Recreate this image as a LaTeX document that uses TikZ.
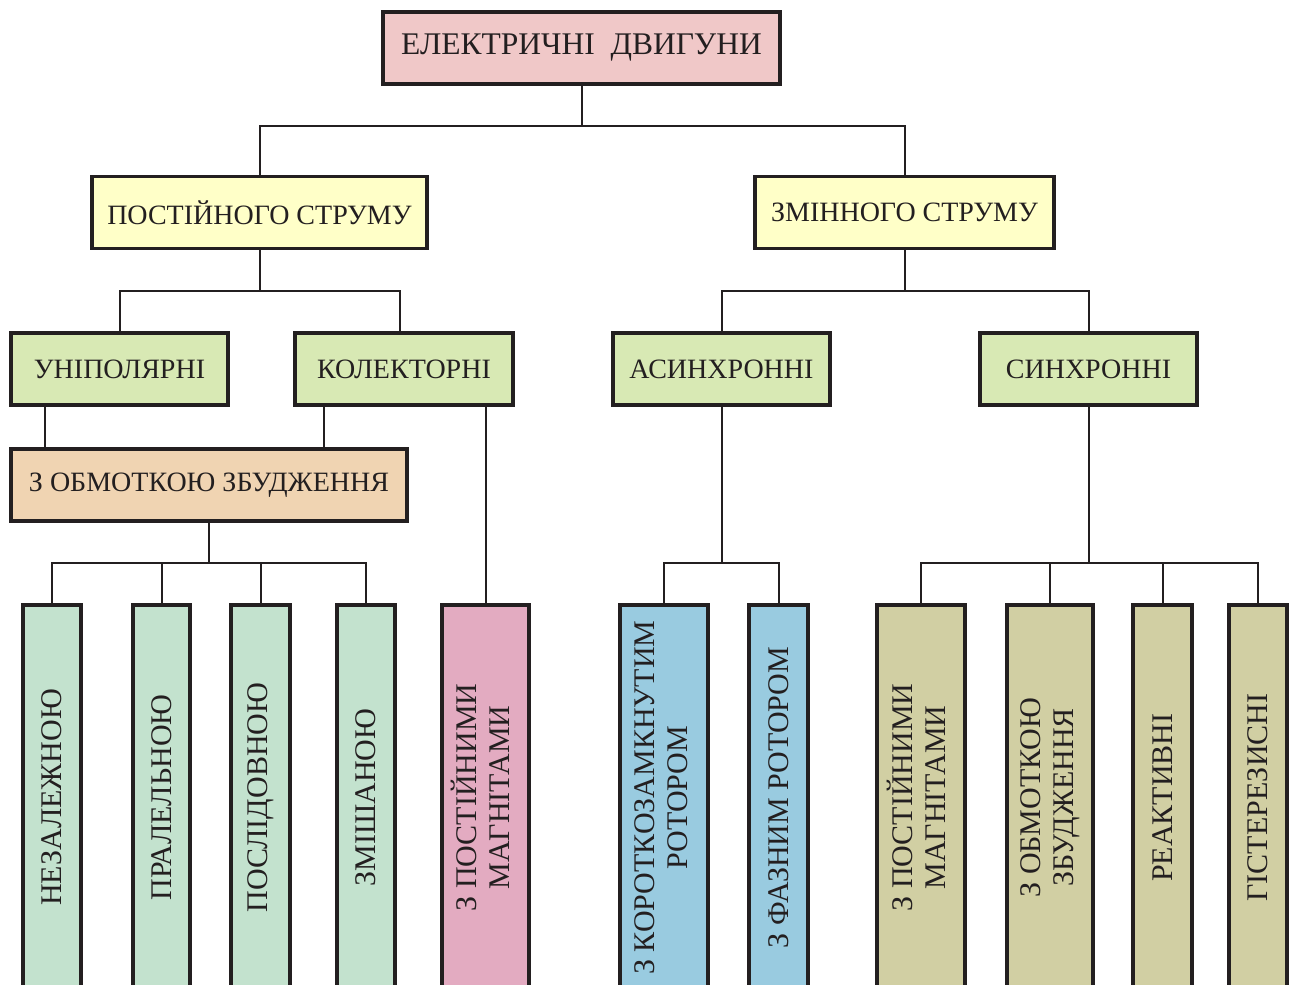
\documentclass[tikz,border=0pt]{standalone}
\usepackage{graphicx}
\usepackage{fontspec}
\setmainfont{Liberation Serif}
\usepackage{tikz}
\usetikzlibrary{positioning,calc}
\definecolor{ink}{HTML}{231F20}
\definecolor{rootpink}{HTML}{F0C8C8}
\definecolor{lyellow}{HTML}{FFFFC8}
\definecolor{lgreen}{HTML}{D8E9B4}
\definecolor{beige}{HTML}{F0D4B2}
\definecolor{mint}{HTML}{C3E2CE}
\definecolor{rose}{HTML}{E3ABC1}
\definecolor{sky}{HTML}{99CBE0}
\definecolor{khaki}{HTML}{D1CFA3}

\begin{document}
\begin{tikzpicture}[
		x=1pt, y=-1pt,
		every node/.style={font=\fontsize{28}{33}\selectfont, text=ink},
		box/.style={draw=ink, line width=3.5pt, align=center, inner sep=0pt, minimum height=72pt},
		kind/.style={box, fill=lyellow},
		group/.style={box, fill=lgreen, minimum width=217pt},
		leaf/.style={box, minimum height=385pt, font=\fontsize{30}{33}\selectfont},
		conn/.style={draw=ink, line width=2pt}
	]
		\clip (0,0) rectangle (1293,985);

		\node[box, fill=rootpink, minimum width=397pt, font=\fontsize{31.5}{36}\selectfont] at (581.5,48)
			(root)
			{ЕЛЕКТРИЧНІ\ \ ДВИГУНИ};
		\node[kind, minimum width=335pt] at (259.5,212.5)
			(dc)
			{ПОСТІЙНОГО СТРУМУ};
		\node[kind, minimum width=299pt] at (904.5,212.5)
			(ac)
			{ЗМІННОГО СТРУМУ};
		\node[group] at (119.5,369)
			(uni)
			{УНІПОЛЯРНІ};
		\node[group, minimum width=218pt] at (404,369)
			(col)
			{КОЛЕКТОРНІ};
		\node[group] at (721.5,369)
			(asy)
			{АСИНХРОННІ};
		\node[group] at (1088.5,369)
			(syn)
			{СИНХРОННІ};
		\node[box, fill=beige, minimum width=396pt] at (209,485)
			(exc)
			{З ОБМОТКОЮ ЗБУДЖЕННЯ};

		% bottom row
		\node[leaf, fill=mint, minimum width=58pt] at (52,797.5)
			(nez)
			{\rotatebox{90}{НЕЗАЛЕЖНОЮ}};
		\node[leaf, fill=mint, minimum width=57pt] at (161.5,797.5)
			(pra)
			{\rotatebox{90}{ПРАЛЕЛЬНОЮ}};
		\node[leaf, fill=mint, minimum width=59pt] at (260.5,797.5)
			(pos)
			{\rotatebox{90}{ПОСЛІДОВНОЮ}};
		\node[leaf, fill=mint, minimum width=58pt] at (366,797.5)
			(zmi)
			{\rotatebox{90}{ЗМІШАНОЮ}};
		\node[leaf, fill=rose, minimum width=87pt] at (485.5,797.5)
			(pm)
			{\rotatebox{90}{\begin{tabular}{@{}c@{}}З ПОСТІЙНИМИ\\МАГНІТАМИ\end{tabular}}};
		\node[leaf, fill=sky, minimum width=88pt] at (664,797.5)
			(sq)
			{\rotatebox{90}{\begin{tabular}{@{}c@{}}З КОРОТКОЗАМКНУТИМ\\РОТОРОМ\end{tabular}}};
		\node[leaf, fill=sky, minimum width=59pt] at (778.5,797.5)
			(ph)
			{\rotatebox{90}{З ФАЗНИМ РОТОРОМ}};
		\node[leaf, fill=khaki, minimum width=88pt] at (921,797.5)
			(spm)
			{\rotatebox{90}{\begin{tabular}{@{}c@{}}З ПОСТІЙНИМИ\\МАГНІТАМИ\end{tabular}}};
		\node[leaf, fill=khaki, minimum width=86pt] at (1050,797.5)
			(sexc)
			{\rotatebox{90}{\begin{tabular}{@{}c@{}}З ОБМОТКОЮ\\ЗБУДЖЕННЯ\end{tabular}}};
		\node[leaf, fill=khaki, minimum width=59pt] at (1162.5,797.5)
			(rea)
			{\rotatebox{90}{РЕАКТИВНІ}};
		\node[leaf, fill=khaki, minimum width=58pt] at (1258,797.5)
			(gis)
			{\rotatebox{90}{ГІСТЕРЕЗИСНІ}};

		\coordinate (j0) at (581.5,126);
		\coordinate (j1) at (259.5,291);
		\coordinate (j2) at (904.5,291);
		\coordinate (j3) at (209,563);
		\coordinate (j4) at (721.5,563);
		\coordinate (j5) at (1088.5,563);

		\draw[conn] (root.south) -- (j0);
		\draw[conn] (dc.north) |- (j0) -| (ac.north);
		\draw[conn] (dc.south) -- (j1);
		\draw[conn] ([xshift=-4pt]col.north) |- (j1) -| (uni.north);
		\draw[conn] (ac.south) -- (j2);
		\draw[conn] (asy.north) |- (j2) -| (syn.north);
		\draw[conn] ([xshift=-75pt]uni.south) -- ([xshift=-75pt]uni.south |- exc.north);
		\draw[conn] ([xshift=-80pt]col.south) -- ([xshift=-80pt]col.south |- exc.north);
		\draw[conn] (pm.north |- col.south) -- (pm.north);
		\draw[conn] (exc.south) -- (j3);
		\draw[conn] (nez.north) |- (j3) -| (zmi.north);
		\draw[conn] (pra.north) -- (pra.north |- j3);
		\draw[conn] (pos.north) -- (pos.north |- j3);
		\draw[conn] (asy.south) -- (j4);
		\draw[conn] (sq.north) |- (j4) -| (ph.north);
		\draw[conn] (syn.south) -- (j5);
		\draw[conn] (spm.north) |- (j5) -| (gis.north);
		\draw[conn] (sexc.north) -- (sexc.north |- j5);
		\draw[conn] (rea.north) -- (rea.north |- j5);
	\end{tikzpicture}
\end{document}
